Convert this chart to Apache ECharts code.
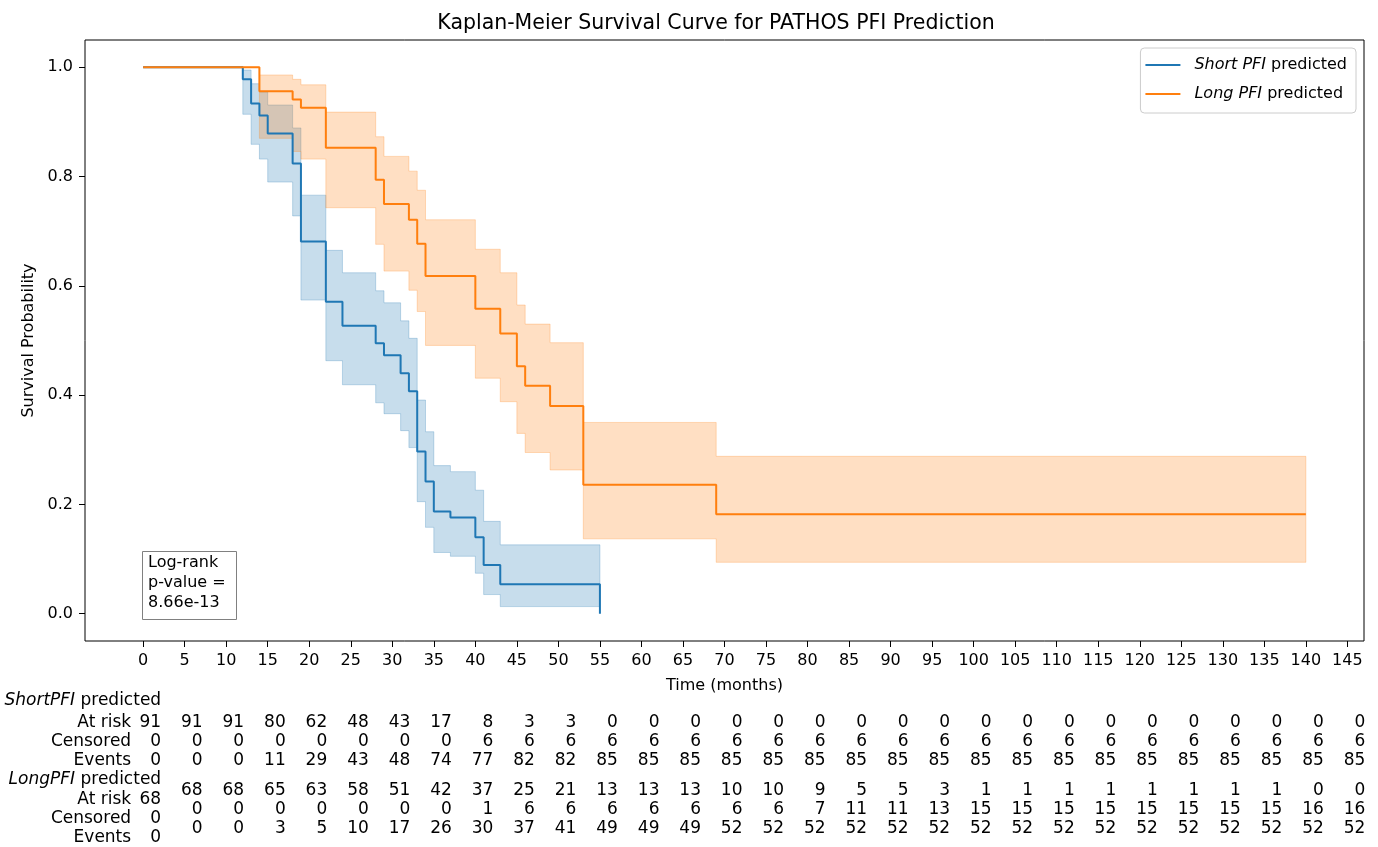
<!DOCTYPE html>
<html><head><meta charset="utf-8">
<script src="https://cdn.jsdelivr.net/npm/echarts@6/dist/echarts.min.js"></script>
<style>html,body{margin:0;padding:0;background:#fff}#c{width:1378px;height:847px}</style>
</head><body><div id="c"></div>
<script>
// ---- Kaplan-Meier steps (time in months, survival probability) ----
const shortTimes = [0, 12, 13, 14, 15, 18, 19, 22, 24, 28, 29, 31, 32, 33, 34, 35, 37, 40, 41, 43, 55];
const shortSurv  = [1, 0.978, 0.934, 0.912, 0.879, 0.824, 0.681, 0.571, 0.527, 0.495, 0.473, 0.440, 0.407, 0.297, 0.242, 0.187, 0.176, 0.140, 0.089, 0.054, 0];
const shortLower = [1, 0.914, 0.859, 0.832, 0.790, 0.728, 0.574, 0.463, 0.419, 0.386, 0.366, 0.335, 0.304, 0.205, 0.158, 0.112, 0.105, 0.074, 0.035, 0.013, 0.013];
const shortUpper = [1, 0.995, 0.970, 0.955, 0.931, 0.889, 0.766, 0.665, 0.624, 0.591, 0.569, 0.536, 0.504, 0.391, 0.333, 0.271, 0.260, 0.226, 0.169, 0.126, 0.126];

const longTimes = [0, 14, 18, 19, 22, 28, 29, 32, 33, 34, 40, 43, 45, 46, 49, 53, 69, 140];
const longSurv  = [1, 0.956, 0.941, 0.926, 0.853, 0.794, 0.750, 0.721, 0.677, 0.618, 0.558, 0.513, 0.453, 0.417, 0.380, 0.236, 0.182, 0.182];
const longLower = [1, 0.870, 0.846, 0.832, 0.743, 0.676, 0.627, 0.592, 0.553, 0.491, 0.431, 0.388, 0.330, 0.295, 0.263, 0.137, 0.094, 0.094];
const longUpper = [1, 0.986, 0.978, 0.968, 0.918, 0.873, 0.837, 0.810, 0.775, 0.721, 0.667, 0.624, 0.565, 0.530, 0.496, 0.350, 0.288, 0.288];

// ---- axis ticks ----
const xTicks = [0,5,10,15,20,25,30,35,40,45,50,55,60,65,70,75,80,85,90,95,100,105,110,115,120,125,130,135,140,145];
const yTicks = [0, 0.2, 0.4, 0.6, 0.8, 1.0];

// ---- at-risk table (one value per x tick) ----
const shortAtRisk   = [91,91,91,80,62,48,43,17,8,3,3,0,0,0,0,0,0,0,0,0,0,0,0,0,0,0,0,0,0,0];
const shortCensored = [0,0,0,0,0,0,0,0,6,6,6,6,6,6,6,6,6,6,6,6,6,6,6,6,6,6,6,6,6,6];
const shortEvents   = [0,0,0,11,29,43,48,74,77,82,82,85,85,85,85,85,85,85,85,85,85,85,85,85,85,85,85,85,85,85];
const longAtRisk    = [68,68,68,65,63,58,51,42,37,25,21,13,13,13,10,10,9,5,5,3,1,1,1,1,1,1,1,1,0,0];
const longCensored  = [0,0,0,0,0,0,0,0,1,6,6,6,6,6,6,6,7,11,11,13,15,15,15,15,15,15,15,15,16,16];
const longEvents    = [0,0,0,3,5,10,17,26,30,37,41,49,49,49,52,52,52,52,52,52,52,52,52,52,52,52,52,52,52,52];

const seriesNames = ['Short PFI predicted', 'Long PFI predicted'];
const colors = ['#1f77b4', '#ff7f0e'];
const FONT = 'DejaVu Sans';

const chart = echarts.init(document.getElementById('c'), null, {renderer: 'canvas'});

function pts(times, vals) { return times.map((t, i) => [t, vals[i]]); }

// confidence band: one step polygon built from the data through api.coord
function band(times, lo, hi, color) {
  return {
    type: 'custom', silent: true, clip: true,
    data: times.map((t, i) => [t, lo[i], hi[i]]),
    encode: {x: 0, y: [1, 2]},
    renderItem: function (params, api) {
      if (params.dataIndexInside !== 0) return null;
      const n = params.dataInsideLength;
      const top = [], bot = [];
      for (let i = 0; i < n; i++) {
        const t = api.value(0, i), l = api.value(1, i), h = api.value(2, i);
        const tn = i < n - 1 ? api.value(0, i + 1) : t;
        top.push(api.coord([t, h]), api.coord([tn, h]));
        bot.push(api.coord([t, l]), api.coord([tn, l]));
      }
      const points = top.concat(bot.reverse());
      return {type: 'polygon', shape: {points: points},
        style: {fill: color, opacity: 0.25, stroke: color, lineWidth: 1}};
    }
  };
}
function curve(name, times, surv, color) {
  return {type: 'line', name: name, step: 'end', symbol: 'none', showSymbol: false, silent: true,
          data: pts(times, surv), lineStyle: {width: 2, color: color}, itemStyle: {color: color}};
}

const tickFont = {fontFamily: FONT, fontSize: 16, color: '#000'};

chart.setOption({
  animation: false,
  backgroundColor: '#fff',
  title: {
    text: 'Kaplan-Meier Survival Curve for PATHOS PFI Prediction',
    left: 711, top: 8, textAlign: 'center',
    textStyle: {fontFamily: FONT, fontSize: 20.5, fontWeight: 'normal', color: '#000'}
  },
  legend: {
    data: seriesNames.map(n => ({name: n, icon: 'rect'})),
    orient: 'vertical', right: 22, top: 48,
    itemWidth: 35, itemHeight: 2, itemGap: 9,
    padding: [7, 9, 9, 5],
    backgroundColor: 'rgba(255,255,255,0.8)',
    borderColor: '#cccccc', borderWidth: 1, borderRadius: 4,
    formatter: function (n) {
      const p = n.split(' ');
      return '{g|}{it|' + p[0] + ' ' + p[1] + '} ' + p.slice(2).join(' ');
    },
    textStyle: {fontFamily: FONT, fontSize: 16, color: '#000', lineHeight: 20,
      rich: {g: {width: 9}, it: {fontStyle: 'italic', fontFamily: FONT, fontSize: 16, color: '#000'}}}
  },
  grid: {left: 85, right: 14, top: 40, bottom: 206, show: true, borderColor: '#000', borderWidth: 1, backgroundColor: 'transparent'},
  xAxis: {
    type: 'value', min: -7, max: 147,
    name: 'Time (months)', nameLocation: 'middle', nameGap: 37,
    nameTextStyle: {fontFamily: FONT, fontSize: 16, color: '#000'},
    axisLine: {show: false, onZero: false},
    axisTick: {show: true, inside: false, length: 6, customValues: xTicks, lineStyle: {color: '#000'}},
    axisLabel: {customValues: xTicks, margin: 12, ...tickFont},
    splitLine: {show: false}
  },
  yAxis: {
    type: 'value', min: -0.05, max: 1.05,
    name: 'Survival Probability', nameLocation: 'middle', nameGap: 40, nameRotate: 90,
    nameTextStyle: {fontFamily: FONT, fontSize: 16, color: '#000'},
    axisLine: {show: false, onZero: false},
    axisTick: {show: true, inside: false, length: 6, customValues: yTicks, lineStyle: {color: '#000'}},
    axisLabel: {customValues: yTicks, margin: 12, formatter: v => v.toFixed(1), ...tickFont},
    splitLine: {show: false}
  },
  series: [
    curve(seriesNames[0], shortTimes, shortSurv, colors[0]),
    band(shortTimes, shortLower, shortUpper, colors[0]),
    curve(seriesNames[1], longTimes, longSurv, colors[1]),
    band(longTimes, longLower, longUpper, colors[1])
  ]
});

// ---- annotation + at-risk table ----
const graphics = [];
graphics.push({type: 'rect', shape: {x: 142.5, y: 551.5, width: 94, height: 68},
  style: {fill: '#fff', stroke: '#808080', lineWidth: 1}, z: 10});
graphics.push({type: 'text', x: 148, y: 553, z: 11,
  style: {text: 'Log-rank\np-value =\n8.66e-13', fontFamily: FONT, fontSize: 16, lineHeight: 20, fill: '#000', align: 'left', verticalAlign: 'top'}});

const tx = xTicks.map(t => chart.convertToPixel({xAxisIndex: 0}, t));
const tableFont = {fontFamily: FONT, fontSize: 17, fill: '#000'};
const labelX = tx[0] - 12;
const valOff = 18;
function addBlock(title, titleY, labelYs, numYs, rows) {
  graphics.push({type: 'text', x: tx[0] + valOff, y: titleY,
    style: {text: '{i|' + title + '} predicted', align: 'right', verticalAlign: 'middle', ...tableFont,
      rich: {i: {fontStyle: 'italic', ...tableFont}}}});
  const names = ['At risk', 'Censored', 'Events'];
  rows.forEach((vals, r) => {
    graphics.push({type: 'text', x: labelX, y: labelYs[r],
      style: {text: names[r], align: 'right', verticalAlign: 'middle', ...tableFont}});
    vals.forEach((v, i) => {
      graphics.push({type: 'text', x: tx[i] + valOff, y: i === 0 ? labelYs[r] : numYs[r],
        style: {text: String(v), align: 'right', verticalAlign: 'middle', ...tableFont}});
    });
  });
}
addBlock('ShortPFI', 701, [723, 742, 761], [723, 742, 761], [shortAtRisk, shortCensored, shortEvents]);
addBlock('LongPFI', 780, [800, 819, 838], [791, 810, 829], [longAtRisk, longCensored, longEvents]);

chart.setOption({graphic: graphics});
</script>
</body></html>
